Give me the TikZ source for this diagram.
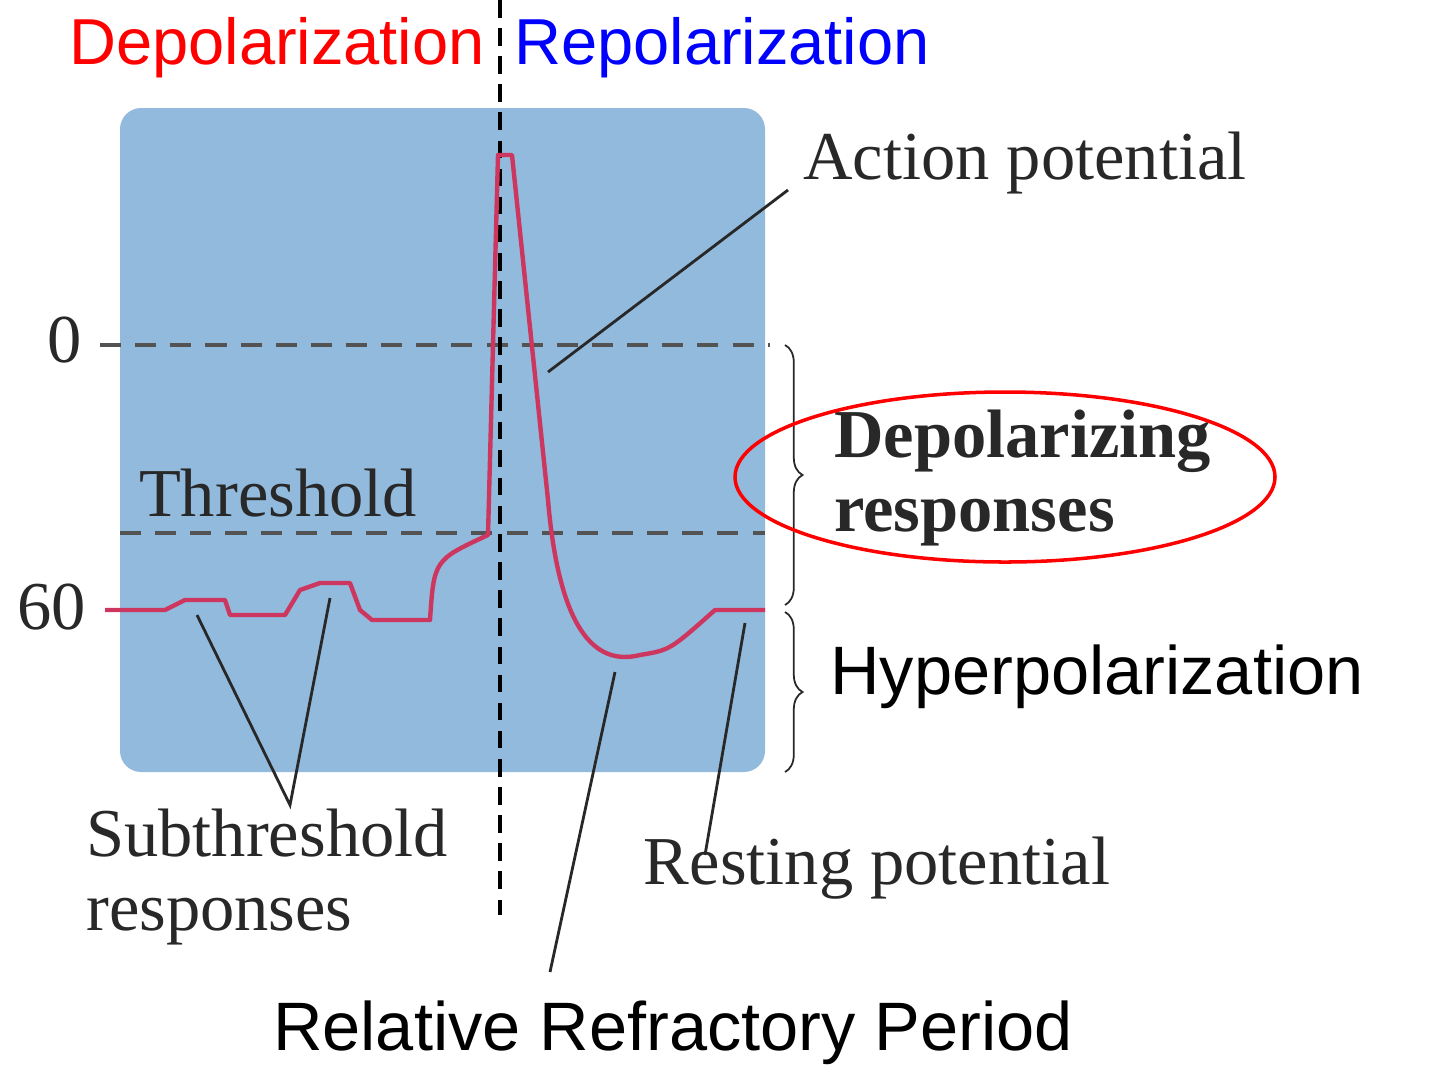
\documentclass[tikz,border=0pt]{standalone}
\usepackage{fontspec}
\setmainfont{Liberation Serif}
\setsansfont{Liberation Sans}
\usetikzlibrary{decorations.pathreplacing}
\definecolor{panel}{RGB}{146,186,221}
\definecolor{trace}{RGB}{205,55,95}
\definecolor{ink}{RGB}{40,40,40}
\tikzset{
  serif/.style={font=\fontsize{39}{42}\selectfont,text=ink},
  sans/.style={font=\sffamily\fontsize{39}{42}\selectfont},
  pointer/.style={ink,line width=1.6pt},
  brace/.style={decorate,decoration={brace,amplitude=10pt},ink,line width=1pt}
}
\begin{document}
\begin{tikzpicture}[x=0.02cm,y=-0.02cm]
\useasboundingbox (0,0) rectangle (1440,1080);
%panel
\fill[panel,rounded corners=12pt](120,108)rectangle(765,772);
%levels
\draw[ink!80,line width=2pt,dash pattern=on 12pt off 8pt](100,345)--(770,345);
\draw[ink!80,line width=2pt,dash pattern=on 12pt off 8pt](120,533)--(765,533);
\draw[black,line width=2pt,dash pattern=on 10pt off 6pt](500,0)--(500,915);
\node[serif](zero)at(65,340){0};
\node[serif](sixty)at(52,607){60};
\node[serif](thr)at(278,493){Threshold};
%trace
\draw[trace,line width=2.5pt,line join=round](105,610)--(165,610)--(185,600)--(225,600)--(230,615)--(285,615)--(300,590)--(320,583)--(350,583)--(360,610)--(372,620)--(430,620)
 ..controls(434,560)..(488,535)--(498,155)--(512,155)--(548,500)
 ..controls(560,640)and(600,665)..(640,655)..controls(670,650)..(715,610)--(765,610);
%braces
\draw[brace](785,345)--(785,605);
\draw[brace](785,612)--(785,772);
%labels
\node[sans,red,font=\sffamily\fontsize{37}{40}\selectfont](depol)at(277,48){Depolarization};
\node[sans,blue,font=\sffamily\fontsize{37}{40}\selectfont](repol)at(722,48){Repolarization};
\node[serif](ap)at(1025,163){Action potential};
\coordinate(apend)at(548,372);
\draw[pointer](apend)--(788,190);
\node[serif,font=\bfseries\fontsize{39}{42}\selectfont,align=left,anchor=west](dr)at(828,478){Depolarizing\\responses};
\draw[red,line width=2pt](1005,477)ellipse[x radius=270,y radius=85];
\node[sans,anchor=west,inner sep=0pt](hyper)at(830,677){Hyperpolarization};
\node[serif,align=left,anchor=west](sub)at(80,877){Subthreshold\\responses};
\coordinate(sub1)at(197,615);\coordinate(sub2)at(330,598);\coordinate(subtip)at(290,805);
\draw[pointer](sub1)--(subtip)--(sub2);
\node[sans](rrp)at(673,1033){Relative Refractory Period};
\coordinate(rrp1)at(615,672);\coordinate(rrp2)at(550,972);
\draw[pointer](rrp1)--(rrp2);
\node[serif](rest)at(877,868){Resting potential};
\coordinate(rest1)at(745,623);\coordinate(rest2)at(705,855);
\draw[pointer](rest1)--(rest2);
\end{tikzpicture}
\end{document}
